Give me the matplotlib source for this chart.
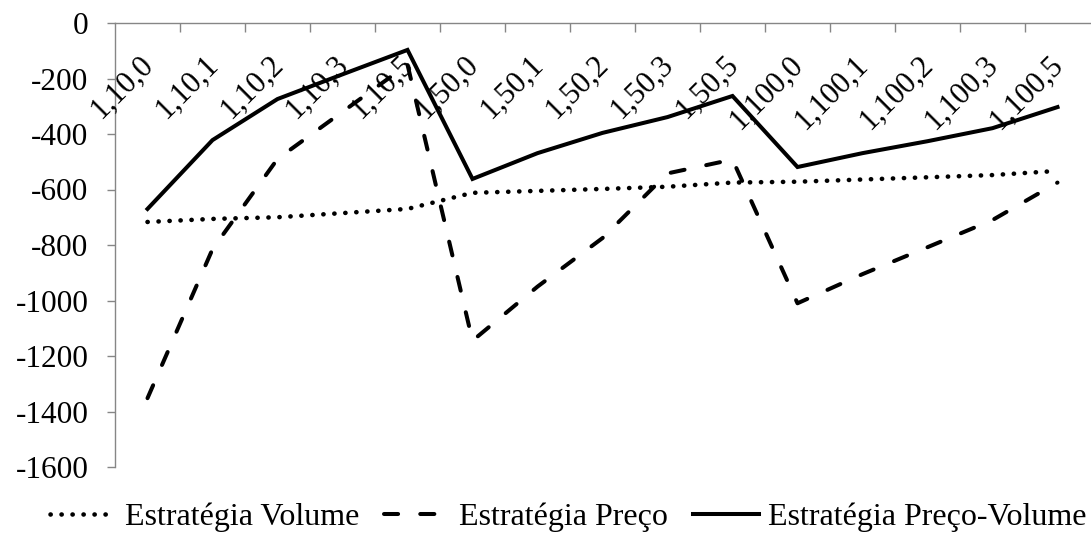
import matplotlib
matplotlib.use("Agg")
import matplotlib.pyplot as plt
from matplotlib.ticker import FixedLocator

plt.rcParams['font.family'] = ['Liberation Serif', 'DejaVu Serif']
plt.rcParams['axes.unicode_minus'] = False

# scenario labels (category axis)
categories = ["1,10,0", "1,10,1", "1,10,2", "1,10,3", "1,10,5",
              "1,50,0", "1,50,1", "1,50,2", "1,50,3", "1,50,5",
              "1,100,0", "1,100,1", "1,100,2", "1,100,3", "1,100,5"]

estrategia_volume = [-717, -706, -700, -685, -670,
                     -612, -605, -598, -590, -575,
                     -572, -564, -556, -548, -533]
estrategia_preco = [-1352, -815, -490, -320, -150,
                    -1145, -950, -775, -542, -492,
                    -1010, -905, -808, -710, -575]
estrategia_preco_volume = [-670, -422, -274, -185, -97,
                           -562, -469, -396, -339, -263,
                           -519, -469, -426, -379, -303]

series_names = ["Estratégia Volume", "Estratégia Preço", "Estratégia Preço-Volume"]
y_ticks = [0, -200, -400, -600, -800, -1000, -1200, -1400, -1600]

W, H = 1091, 536
fig = plt.figure(figsize=(W / 100, H / 100), dpi=100)
ax = fig.add_axes([115 / W, 1 - 467 / H, 975 / W, 444 / H])

x = list(range(len(categories)))
lw = 2.9
ax.plot(x, estrategia_volume, color='black', lw=3.3,
        linestyle=(0, (0.05, 2.35)), dash_capstyle='round',
        label=series_names[0])
ax.plot(x, estrategia_preco, color='black', lw=lw,
        linestyle=(0, (3.5, 5.5)), dash_capstyle='round',
        label=series_names[1])
ax.plot(x, estrategia_preco_volume, color='black', lw=lw,
        solid_joinstyle='miter', label=series_names[2])

ax.set_xlim(-0.5, len(categories) - 0.5)
ax.set_ylim(-1600, 0)

axis_gray = '#868686'
for side in ('bottom', 'right'):
    ax.spines[side].set_visible(False)
for side in ('top', 'left'):
    ax.spines[side].set_color(axis_gray)
    ax.spines[side].set_linewidth(1.0)

# value axis
ax.set_yticks(y_ticks)
ax.set_yticklabels([str(v) for v in y_ticks])
ax.tick_params(axis='y', direction='out', length=6, width=1.0,
               color=axis_gray, labelsize=22.5, pad=13)

# category axis along the zero line, tick marks between categories
ax.xaxis.tick_top()
ax.xaxis.set_major_locator(FixedLocator([i + 0.5 for i in range(len(categories) - 1)]))
ax.tick_params(axis='x', direction='in', length=6.5, width=1.0,
               color=axis_gray, labeltop=False, labelbottom=False)

for i, name in enumerate(categories):
    ax.annotate(name, xy=(i, 0), xycoords='data',
                xytext=(5, -31), textcoords='offset points',
                rotation=45, rotation_mode='anchor',
                ha='right', va='baseline', fontsize=22)

leg = fig.legend(loc='center left', bbox_to_anchor=(50 / W, 1 - 517 / H),
                 ncol=3, frameon=False, fontsize=23,
                 handlelength=2.05, handletextpad=0.3, columnspacing=0.78,
                 borderpad=0, borderaxespad=0)

fig.savefig('out.png', dpi=100)
